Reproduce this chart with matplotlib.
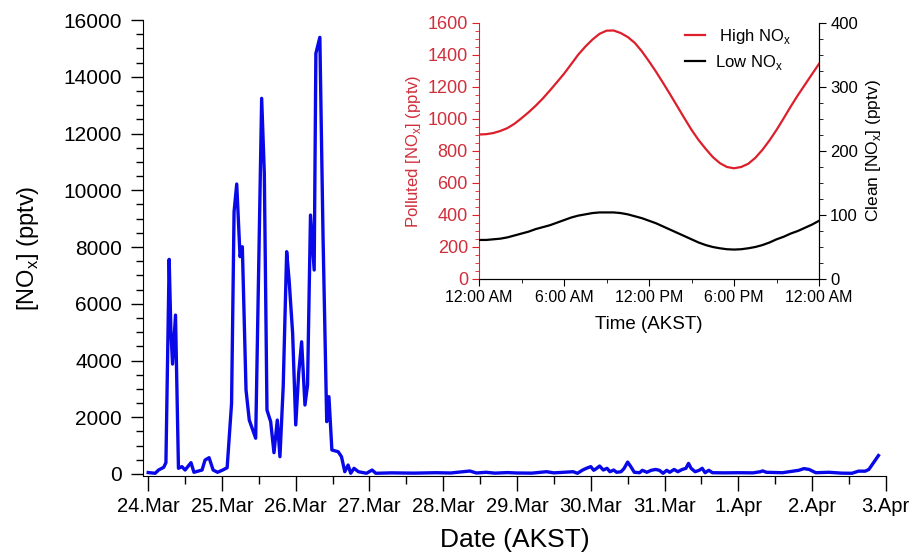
import numpy as np
import matplotlib.pyplot as plt
from matplotlib.ticker import MultipleLocator

plt.rcParams['font.family'] = ['Liberation Sans', 'DejaVu Sans']

# Main time series: days since 24.Mar 00:00 AKST, NOx in pptv
days = [0.00, 0.095, 0.14, 0.21, 0.24, 0.284, 0.307, 0.33, 0.37, 0.41,
        0.456, 0.50, 0.58, 0.62, 0.73, 0.77, 0.825, 0.88, 0.94, 1.01,
        1.07, 1.13, 1.164, 1.20, 1.245, 1.276, 1.326, 1.37, 1.457, 1.538,
        1.574, 1.61, 1.66, 1.705, 1.75, 1.786, 1.83, 1.877, 1.91, 1.958,
        2.00, 2.04, 2.08, 2.125, 2.16, 2.20, 2.25, 2.273, 2.327, 2.37,
        2.42, 2.45, 2.49, 2.575, 2.62, 2.665, 2.71, 2.745, 2.79, 2.85,
        2.96, 3.035, 3.085, 3.3, 3.6, 3.9, 4.1, 4.36, 4.45, 4.58,
        4.7, 4.87, 5.0, 5.2, 5.4, 5.5, 5.76, 5.82, 5.89, 5.94,
        6.0, 6.04, 6.08, 6.12, 6.17, 6.22, 6.26, 6.31, 6.35, 6.41,
        6.45, 6.5, 6.545, 6.59, 6.66, 6.70, 6.76, 6.82, 6.88, 6.93,
        6.98, 7.03, 7.07, 7.13, 7.18, 7.24, 7.29, 7.325, 7.36, 7.415,
        7.47, 7.51, 7.55, 7.6, 7.65, 7.8, 8.0, 8.2, 8.3, 8.33,
        8.38, 8.6, 8.82, 8.89, 8.96, 9.05, 9.23, 9.4, 9.54, 9.63,
        9.72, 9.77, 9.9]
nox = [50, 25, 140, 235, 400, 7565, 5075, 3875, 5600, 200,
       260, 140, 400, 60, 140, 490, 575, 140, 60, 140,
       220, 2490, 9245, 10220, 7660, 8010, 2960, 1900, 1260, 13240,
       10600, 2255, 1845, 750, 1900, 610, 3080, 7835, 6835, 4960,
       1730, 3550, 4660, 2430, 3135, 9125, 7190, 14825, 15390, 8365,
       1845, 2725, 845, 785, 610, 80, 315, 25, 200, 80,
       25, 140, 25, 40, 30, 45, 35, 105, 35, 60,
       30, 50, 35, 30, 80, 40, 80, 25, 140, 200,
       260, 130, 200, 280, 140, 200, 80, 140, 60, 80,
       190, 420, 250, 60, 45, 130, 60, 130, 160, 130,
       25, 130, 60, 160, 80, 160, 200, 375, 200, 80,
       130, 200, 45, 130, 45, 40, 45, 40, 80, 110,
       60, 45, 130, 190, 160, 45, 60, 30, 25, 100,
       100, 160, 650]
date_labels = ['24.Mar', '25.Mar', '26.Mar', '27.Mar', '28.Mar', '29.Mar',
               '30.Mar', '31.Mar', '1.Apr', '2.Apr', '3.Apr']

# Inset: mean diurnal cycle, every half hour
hours = [h * 0.5 for h in range(49)]
high_nox = [903, 905, 912, 925, 943, 970, 1005, 1042, 1083, 1128,
            1178, 1230, 1283, 1342, 1402, 1452, 1496, 1532, 1552, 1553,
            1537, 1512, 1475, 1422, 1360, 1294, 1224, 1152, 1078, 1004,
            932, 868, 813, 762, 724, 700, 692, 700, 720, 757,
            807, 866, 932, 1004, 1078, 1148, 1214, 1280, 1345]
low_nox = [61, 61, 62, 63, 65, 68, 71, 74, 78, 81,
           84, 88, 92, 96, 99, 101, 103, 104, 104, 104,
           103, 101, 98, 95, 91, 87, 82, 77, 72, 67,
           62, 57, 53, 50, 48, 46.5, 46, 46.5, 48, 50,
           53, 57, 62, 66, 71, 75, 80, 85, 91]
time_labels = ['12:00 AM', '6:00 AM', '12:00 PM', '6:00 PM', '12:00 AM']

red = '#dc1f2b'
red_txt = '#d02e3a'

fig = plt.figure(figsize=(9.17, 5.55), dpi=100)

# main panel
ax = fig.add_axes([0.156, 0.1429, 0.810, 0.821])
ax.plot(days, nox, color='#0808e8', lw=2.4)
ax.set_xlim(-0.07, 10)
ax.set_ylim(-60, 16000)
ax.set_xticks(range(len(date_labels)))
ax.set_xticklabels(date_labels)
ax.xaxis.set_minor_locator(MultipleLocator(0.5))
ax.yaxis.set_major_locator(MultipleLocator(2000))
ax.yaxis.set_minor_locator(MultipleLocator(500))
for s in ['top', 'right']:
    ax.spines[s].set_visible(False)
ax.tick_params(axis='x', which='major', length=11, width=1, labelsize=14.5, pad=4)
ax.tick_params(axis='x', which='minor', length=6, width=1)
ax.tick_params(axis='y', which='major', length=9, width=1, labelsize=15, pad=6)
ax.tick_params(axis='y', which='minor', length=5, width=1)
ax.set_xlabel('Date (AKST)', fontsize=19)
ax.set_ylabel('[NO$_\\mathregular{x}$] (pptv)', fontsize=17)
ax.xaxis.set_label_coords(0.5, -0.115)
ax.yaxis.set_label_coords(-0.137, 0.5)

# inset panel
ins = fig.add_axes([0.5224, 0.4973, 0.3708, 0.4613])
l1, = ins.plot(hours, high_nox, color=red, lw=1.6, label=' High NO$_\\mathregular{x}$')
ins.set_xlim(0, 24)
ins.set_ylim(0, 1600)
ins.set_xticks([0, 6, 12, 18, 24])
ins.set_xticklabels(time_labels)
ins.xaxis.set_minor_locator(MultipleLocator(3))
ins.yaxis.set_major_locator(MultipleLocator(200))
ins.yaxis.set_minor_locator(MultipleLocator(50))
ins.spines['top'].set_visible(False)
ins.spines['left'].set_color(red)
ins.tick_params(axis='y', which='both', colors=red)
ins.tick_params(axis='y', labelcolor=red_txt, labelsize=13)
ins.tick_params(axis='x', labelsize=11.5)
ins.tick_params(which='major', length=5, pad=3)
ins.tick_params(which='minor', length=3)
ins.set_xlabel('Time (AKST)', fontsize=13.5, labelpad=8)
ins.set_ylabel('Polluted [NO$_\\mathregular{x}$] (pptv)', fontsize=12,
               color=red_txt, labelpad=3)

ins2 = ins.twinx()
l2, = ins2.plot(hours, low_nox, color='black', lw=1.6, label='Low NO$_\\mathregular{x}$')
ins2.set_ylim(0, 400)
ins2.yaxis.set_major_locator(MultipleLocator(100))
ins2.yaxis.set_minor_locator(MultipleLocator(25))
ins2.spines['top'].set_visible(False)
ins2.spines['left'].set_visible(False)
ins2.tick_params(which='major', length=5, labelsize=12, pad=3)
ins2.tick_params(which='minor', length=3)
ins2.set_ylabel('Clean [NO$_\\mathregular{x}$] (pptv)', fontsize=12.5, labelpad=4)

ins.legend(handles=[l1, l2], loc='upper left', bbox_to_anchor=(0.605, 0.985),
           frameon=False, fontsize=12, handlelength=1.2, handletextpad=0.6,
           labelspacing=0.45, borderpad=0, borderaxespad=0)

plt.savefig('out.png', dpi=100)
